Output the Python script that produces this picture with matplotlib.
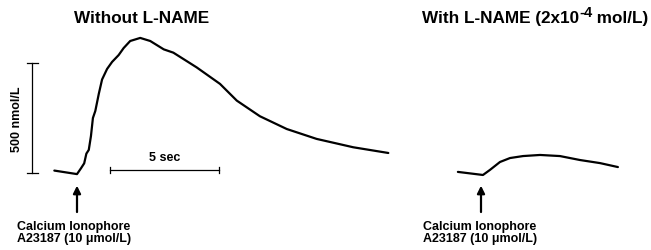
import matplotlib.pyplot as plt
from matplotlib.transforms import offset_copy

# time after ionophore (sec) and [Ca2+] rise above baseline (nmol/L)
ctrl_time = [-1.04, 0.0, 0.18, 0.33, 0.43, 0.54, 0.64, 0.73, 0.84, 1.00, 1.15, 1.38, 1.61,
             1.91, 2.14, 2.44, 2.90, 3.36, 3.98, 4.42, 5.49, 6.56, 7.33, 8.39, 9.62,
             10.99, 12.67, 14.28]
ctrl_conc = [11, -5, 21, 44, 88, 105, 168, 250, 282, 360, 425, 473, 505,
             536, 568, 600, 614, 600, 562, 547, 480, 405, 329, 258, 200,
             155, 117, 91]

lname_time = [-1.06, 0.09, 0.41, 0.87, 1.33, 1.93, 2.71, 3.62, 4.54, 5.46, 6.28]
lname_conc = [5, -9, 14, 50, 68, 77, 82, 77, 59, 45, 27]

stim_label = "Calcium Ionophore\nA23187 (10 \u03bcmol/L)"
time_bar = 5       # sec
conc_bar = 500     # nmol/L

W, H = 651, 251
PX_PER_SEC = 21.8
PX_PER_CONC = 0.22

plt.rcParams.update({"font.family": ["Liberation Sans", "DejaVu Sans"], "font.weight": "bold"})
fig = plt.figure(figsize=(W / 100, H / 100), dpi=100)


def make_axes(px_left, px_right, stim_px):
    ax = fig.add_axes([px_left / W, 0, (px_right - px_left) / W, 1])
    ax.set_xlim((px_left - stim_px) / PX_PER_SEC, (px_right - stim_px) / PX_PER_SEC)
    ax.set_ylim((174 - H) / PX_PER_CONC, 174 / PX_PER_CONC)
    ax.axis("off")
    return ax


def stimulus(ax, text_x):
    ax.annotate("", xy=(0, -45), xytext=(0, -190),
                arrowprops=dict(arrowstyle="-|>", lw=1.6, mutation_scale=11, color="black"))
    ax.text(text_x, -213, stim_label, fontsize=9, ha="left", va="top", linespacing=1.05)


def trace(ax, t, c):
    ax.plot(t, c, color="black", lw=1.6, solid_joinstyle="round", solid_capstyle="round")


ax1 = make_axes(0, 400, 77)
trace(ax1, ctrl_time, ctrl_conc)
ax1.text(2.94, 705, "Without L-NAME", fontsize=12.3, ha="center", va="center")
stimulus(ax1, -2.75)

# 500 nmol/L scale bar
bx = -2.06
ax1.plot([bx, bx], [0, conc_bar], color="black", lw=0.9)
ax1.plot([bx - 0.25, bx + 0.25], [0, 0], color="black", lw=0.9)
ax1.plot([bx - 0.25, bx + 0.25], [conc_bar, conc_bar], color="black", lw=0.9)
ax1.text(-2.75, conc_bar / 2, "500 nmol/L", rotation=90, fontsize=9, ha="center", va="center")

# 5 sec scale bar
tx, ty = 1.51, 14
ax1.plot([tx, tx + time_bar], [ty, ty], color="black", lw=0.9)
ax1.plot([tx, tx], [ty - 14, ty + 14], color="black", lw=0.9)
ax1.plot([tx + time_bar, tx + time_bar], [ty - 14, ty + 14], color="black", lw=0.9)
ax1.text(tx + time_bar / 2, 73, "5 sec", fontsize=9, ha="center", va="center")

ax2 = make_axes(400, 651, 481)
trace(ax2, lname_time, lname_conc)
stimulus(ax2, -2.65)

# right title with raised exponent, built from pieces
renderer = fig.canvas.get_renderer()
pieces = [("With L-NAME (2x10", 12.3, 0), ("-4", 10.5, 4.0), (" mol/L)", 12.3, 0)]
x0 = 422 / W
trans = fig.transFigure
for text, size, rise in pieces:
    t = fig.text(x0, 1 - 19 / H, text, fontsize=size, ha="left", va="center",
                 transform=offset_copy(trans, fig=fig, y=rise, units="points"))
    x0 += t.get_window_extent(renderer).width / W

fig.savefig("out.png", dpi=100, facecolor="white")
